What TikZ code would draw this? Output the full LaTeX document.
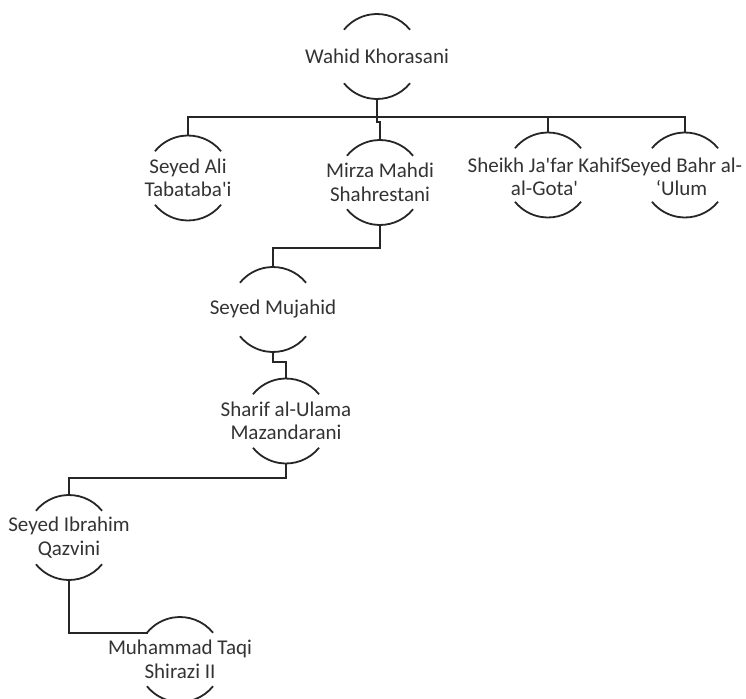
\documentclass[tikz,border=0pt]{standalone}
\usepackage{fontspec}
\setmainfont{Carlito}
\usetikzlibrary{calc}
\definecolor{ink}{HTML}{262626}
\definecolor{txt}{HTML}{333333}
\newcommand{\sq}{\textquotesingle}
\tikzset{
  ring/.style={circle, minimum size=85pt, inner sep=0pt, outer sep=0pt, draw=none},
  nametext/.style={font=\fontsize{21}{23.5}\selectfont, align=center, text=txt, inner sep=0pt},
  arcline/.style={draw=ink, line width=1.8pt},
  conn/.style={draw=ink, line width=1.8pt, line cap=rect}
}
\begin{document}
\begin{tikzpicture}[x=1pt,y=1pt]
\useasboundingbox (0,0) rectangle (746,-698);
% circles (invisible, for geometry)
\node[ring] (w)  at (377,-56.5) {};
\node[ring] (a)  at (188,-178) {};
\node[ring] (m)  at (380,-182.5) {};
\node[ring] (s)  at (548,-175) {};
\node[ring] (b)  at (685,-175) {};
\node[ring] (mu) at (273,-309.5) {};
\node[ring] (sh) at (286,-421) {};
\node[ring] (ib) at (69,-537.5) {};
\node[ring] (mt) at (180,-659.5) {};
% arcs
\foreach \n in {w,a,m,s,b,mu,sh,ib,mt}{
  \draw[arcline] (\n.39) arc (39:141:42.5pt);
  \draw[arcline] (\n.-39) arc (-39:-141:42.5pt);
}
% texts
\node[nametext] (wt)  at (w)  {Wahid Khorasani};
\node[nametext] (at)  at (a)  {Seyed Ali\\Tabataba\sq i};
\node[nametext] (mtx) at (m)  {Mirza Mahdi\\Shahrestani};
\node[nametext] (st)  at (544.5,-177) {Sheikh Ja\sq far Kahif\\al-Gota\sq};
\node[nametext] (bt)  at (681.5,-177) {Seyed Bahr al-\\‘Ulum};
\node[nametext] (mut) at (mu) {Seyed Mujahid};
\node[nametext] (sht) at (sh) {Sharif al-Ulama\\Mazandarani};
\node[nametext] (ibt) at (ib) {Seyed Ibrahim\\Qazvini};
\node[nametext] (mtt) at (mt) {Muhammad Taqi\\Shirazi II};
% connectors
\coordinate (bus) at (0,-117);
\draw[conn] (w.south) |- (bus -| a.north) -- (a.north);
\draw[conn] (w.south) |- (bus -| s.north) -- (s.north);
\draw[conn] (w.south) |- (bus -| b.north) -- (b.north);
\draw[conn] (w.south) -- ($(w.south)+(0,-23)$) -| (m.north);
\draw[conn] (m.south) -- ($(m.south)+(0,-23)$) -| (mu.north);
\draw[conn] (mu.south) -- ($(mu.south)+(0,-10)$) -| (sh.north);
\draw[conn] (sh.south) -- ($(sh.south)+(0,-14.5)$) -| (ib.north);
\draw[conn] (ib.south) |- (mt.141);
\end{tikzpicture}
\end{document}
